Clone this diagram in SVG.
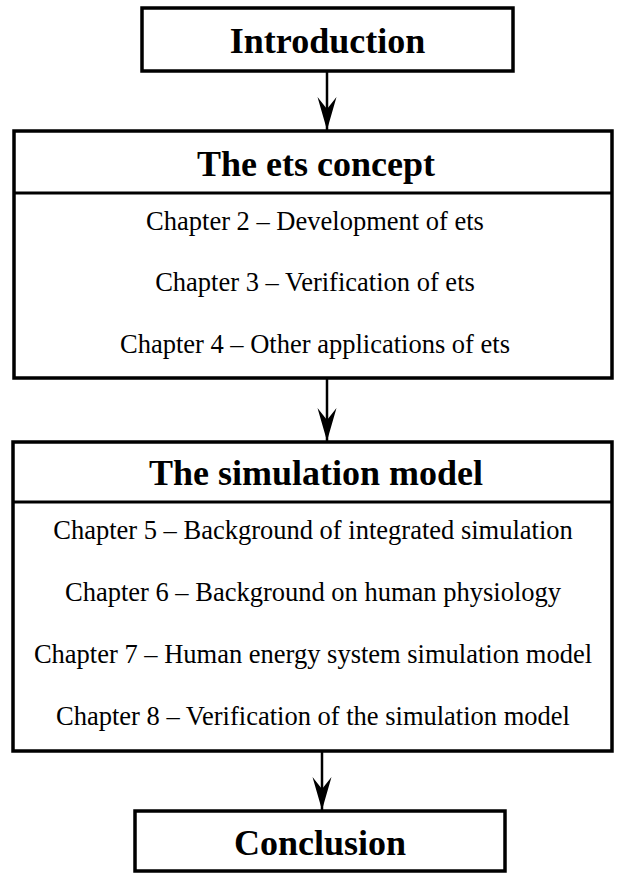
<svg xmlns="http://www.w3.org/2000/svg" width="625" height="873" viewBox="0 0 625 873">
<style>
.box{fill:#fff;stroke:#000;stroke-width:3.5}
.div{stroke:#000;stroke-width:3}
.hd{font-family:"Liberation Serif","Times New Roman",serif;font-weight:bold;font-size:36px;text-anchor:middle;fill:#000}
.ch{font-family:"Liberation Serif","Times New Roman",serif;font-size:26.5px;text-anchor:middle;fill:#000}
.con{stroke:#000;stroke-width:2.5;fill:none}
</style>
<defs>
<marker id="arr" markerUnits="userSpaceOnUse" markerWidth="36" markerHeight="24" viewBox="-34 -12 36 24" refX="0" refY="0" orient="auto">
<path d="M0,0 L-33,-9.5 L-21,0 L-33,9.5 Z" fill="#000"/>
</marker>
</defs>
<g id="connectors">
<line class="con" x1="327" y1="71" x2="327" y2="130" marker-end="url(#arr)"/>
<line class="con" x1="327" y1="378" x2="327" y2="441" marker-end="url(#arr)"/>
<line class="con" x1="322" y1="751" x2="322" y2="810" marker-end="url(#arr)"/>
</g>
<g id="introduction">
<rect class="box" x="142" y="8" width="371" height="63"/>
<text class="hd" x="327.5" y="53">Introduction</text>
</g>
<g id="ets-concept">
<rect class="box" x="14" y="131" width="598" height="247"/>
<line class="div" x1="14" y1="193" x2="612" y2="193"/>
<text class="hd" x="316" y="176">The ets concept</text>
<text class="ch" x="315" y="230">Chapter 2 – Development of ets</text>
<text class="ch" x="315" y="291">Chapter 3 – Verification of ets</text>
<text class="ch" x="315" y="353">Chapter 4 – Other applications of ets</text>
</g>
<g id="simulation-model">
<rect class="box" x="13" y="442" width="599" height="309"/>
<line class="div" x1="13" y1="502" x2="612" y2="502"/>
<text class="hd" x="316" y="485">The simulation model</text>
<text class="ch" x="313" y="539">Chapter 5 – Background of integrated simulation</text>
<text class="ch" x="313" y="601">Chapter 6 – Background on human physiology</text>
<text class="ch" x="313" y="663">Chapter 7 – Human energy system simulation model</text>
<text class="ch" x="313" y="725">Chapter 8 – Verification of the simulation model</text>
</g>
<g id="conclusion">
<rect class="box" x="135" y="811" width="370" height="60"/>
<text class="hd" x="320" y="855">Conclusion</text>
</g>
</svg>
